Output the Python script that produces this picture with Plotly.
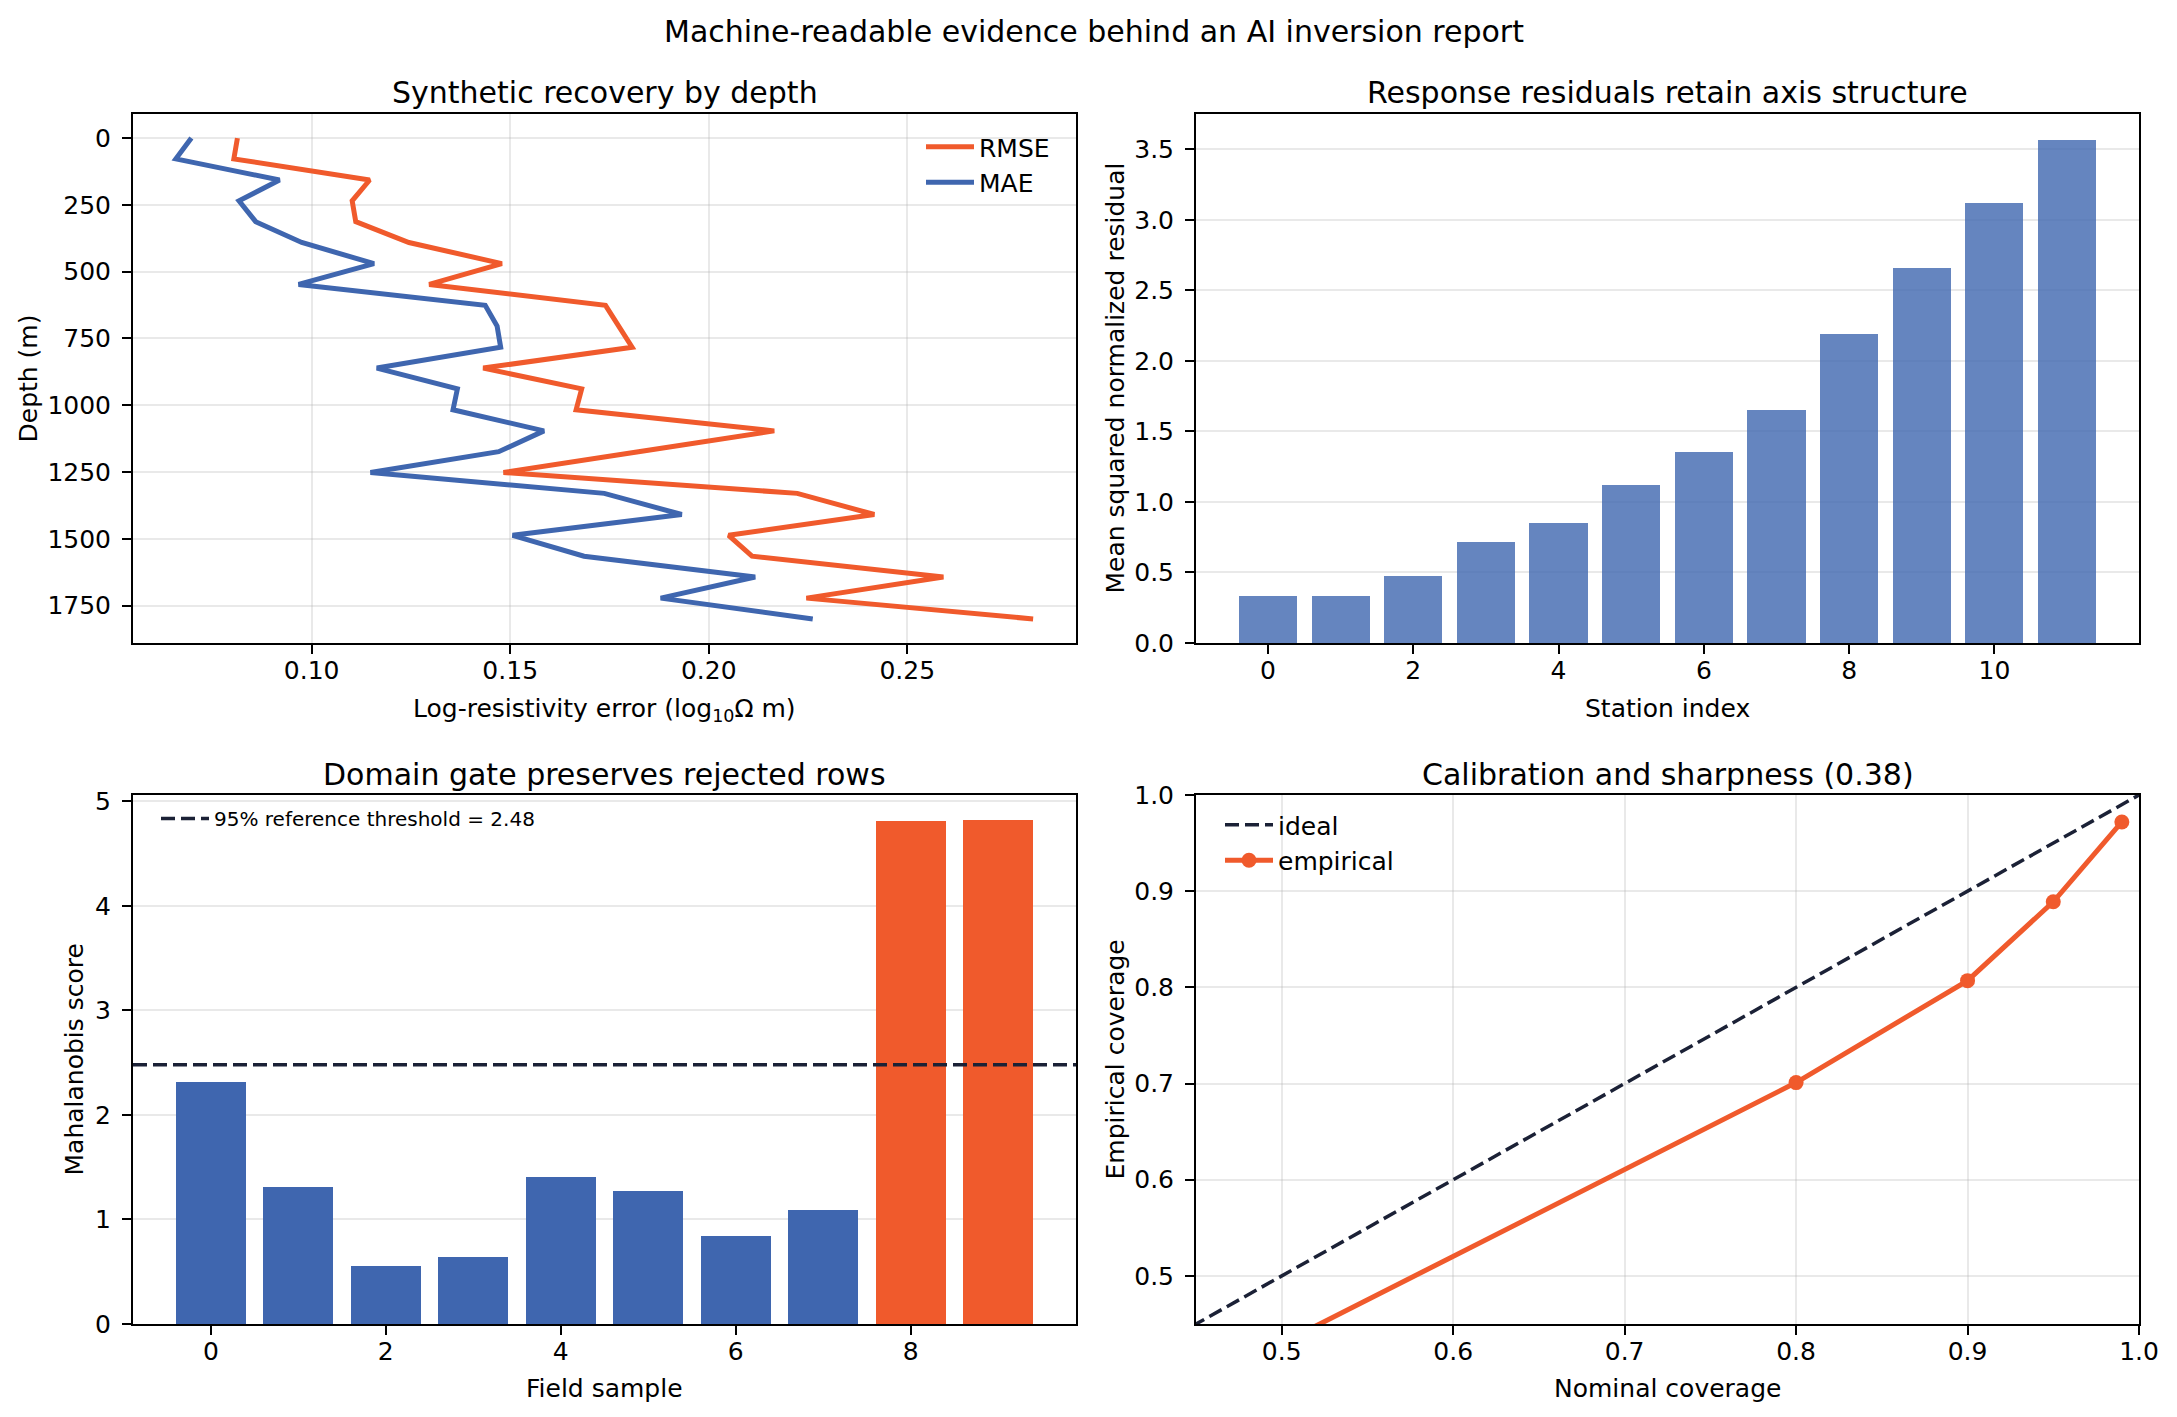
import plotly.graph_objects as go

W, H = 2177, 1417
OFF = 8  # the page body adds an 8 px margin, so pixel targets are shifted back by it

# --- data ---
depth = [0, 78, 157, 235, 313, 391, 470, 548, 626, 704, 783, 861,
         939, 1017, 1096, 1174, 1252, 1330, 1409, 1487, 1565, 1643, 1722, 1800]
rmse = [0.0813, 0.0804, 0.1146, 0.1102, 0.1111, 0.1245, 0.1479, 0.1296,
        0.1740, 0.1772, 0.1807, 0.1432, 0.1680, 0.1666, 0.2165, 0.1823,
        0.1483, 0.2223, 0.2417, 0.2050, 0.2109, 0.2591, 0.2246, 0.2817]
mae = [0.0697, 0.0658, 0.0919, 0.0817, 0.0859, 0.0975, 0.1157, 0.0967,
       0.1437, 0.1467, 0.1476, 0.1164, 0.1367, 0.1356, 0.1585, 0.1471,
       0.1148, 0.1737, 0.1932, 0.1506, 0.1686, 0.2117, 0.1879, 0.2262]

stations = list(range(12))
station_resid = [0.332, 0.332, 0.472, 0.714, 0.849, 1.118, 1.354, 1.650,
                 2.191, 2.660, 3.120, 3.568]

samples = list(range(10))
mahal = [2.318, 1.308, 0.557, 0.645, 1.405, 1.277, 0.838, 1.089, 4.811, 4.820]
threshold = 2.48

nominal = [0.5, 0.8, 0.9, 0.95, 0.99]
empirical = [0.43, 0.701, 0.807, 0.889, 0.972]
ideal = [0.0, 1.0]

BLUE = "#3f66af"
ORANGE = "#f05a2c"
NAVY = "#1b2136"
FONT = "DejaVu Sans"


def px(x):
    return (x - OFF) / W


def py(y):
    return 1 - (y - OFF) / H


fig = go.Figure()

# top-left: recovery by depth
fig.add_trace(go.Scatter(x=rmse, y=depth, mode="lines", name="RMSE",
                         line=dict(color=ORANGE, width=5), xaxis="x", yaxis="y",
                         legend="legend"))
fig.add_trace(go.Scatter(x=mae, y=depth, mode="lines", name="MAE",
                         line=dict(color=BLUE, width=5), xaxis="x", yaxis="y",
                         legend="legend"))

# top-right: station residuals
fig.add_trace(go.Bar(x=stations, y=station_resid, width=0.8, showlegend=False,
                     marker=dict(color=BLUE, opacity=0.8, line=dict(width=0)),
                     xaxis="x2", yaxis="y2"))

# bottom-left: domain gate
bar_cols = [ORANGE if v > threshold else BLUE for v in mahal]
fig.add_trace(go.Bar(x=samples, y=mahal, width=0.8, showlegend=False,
                     marker=dict(color=bar_cols, line=dict(width=0)),
                     xaxis="x3", yaxis="y3"))
fig.add_shape(type="line", xref="x3 domain", yref="y3", x0=0, x1=1,
              y0=threshold, y1=threshold,
              line=dict(color=NAVY, width=3.5, dash="14px,6px"),
              showlegend=True, legend="legend2",
              name=f"95% reference threshold = {threshold:.2f}")

# bottom-right: calibration
fig.add_trace(go.Scatter(x=ideal, y=ideal, mode="lines", name="ideal",
                         line=dict(color=NAVY, width=3.5, dash="14px,6px"),
                         xaxis="x4", yaxis="y4", legend="legend3"))
fig.add_trace(go.Scatter(x=nominal, y=empirical, mode="lines+markers", name="empirical",
                         line=dict(color=ORANGE, width=5),
                         marker=dict(color=ORANGE, size=15),
                         xaxis="x4", yaxis="y4", legend="legend3"))

grid = "rgba(176,176,176,0.28)"
base = dict(showline=True, linecolor="black", linewidth=2, mirror=True,
            ticks="outside", ticklen=9, tickwidth=2, tickcolor="black",
            tickfont=dict(size=25, color="black", family=FONT),
            zeroline=False, layer="above traces",
            gridcolor=grid, gridwidth=2, automargin=False)
bx = dict(base, ticklabelstandoff=-5)
by = dict(base, ticklabelstandoff=6)

xl = [px(133), px(1076)]
xr = [px(1196), px(2139)]
yt = [py(643), py(114)]
yb = [py(1324), py(795)]

leg = dict(bgcolor="rgba(0,0,0,0)", itemwidth=48, yanchor="top")

fig.update_layout(
    width=W, height=H, autosize=False,
    margin=dict(l=0, r=0, t=0, b=0, pad=0, autoexpand=False),
    paper_bgcolor="white", plot_bgcolor="white",
    font=dict(family=FONT, color="black", size=25),
    bargap=0,
    xaxis=dict(bx, domain=xl, anchor="y", range=[0.055, 0.2925],
               tickvals=[0.10, 0.15, 0.20, 0.25], tickformat=".2f", showgrid=True),
    yaxis=dict(by, domain=yt, anchor="x", range=[1890, -90],
               tickvals=[0, 250, 500, 750, 1000, 1250, 1500, 1750], showgrid=True),
    xaxis2=dict(bx, domain=xr, anchor="y2", range=[-0.99, 11.99],
                tickvals=[0, 2, 4, 6, 8, 10], showgrid=False),
    yaxis2=dict(by, domain=yt, anchor="x2", range=[0, 3.75],
                tickvals=[0, 0.5, 1, 1.5, 2, 2.5, 3, 3.5], tickformat=".1f", showgrid=True),
    xaxis3=dict(bx, domain=xl, anchor="y3", range=[-0.89, 9.89],
                tickvals=[0, 2, 4, 6, 8], showgrid=False),
    yaxis3=dict(by, domain=yb, anchor="x3", range=[0, 5.06],
                tickvals=[0, 1, 2, 3, 4, 5], showgrid=True),
    xaxis4=dict(bx, domain=xr, anchor="y4", range=[0.45, 1.0],
                tickvals=[0.5, 0.6, 0.7, 0.8, 0.9, 1.0], tickformat=".1f", showgrid=True),
    yaxis4=dict(by, domain=yb, anchor="x4", range=[0.45, 1.0],
                tickvals=[0.5, 0.6, 0.7, 0.8, 0.9, 1.0], tickformat=".1f", showgrid=True),
    legend=dict(leg, x=px(1055), y=py(124), xanchor="right", font=dict(size=25)),
    legend2=dict(leg, x=px(156), y=py(799), xanchor="left", font=dict(size=20)),
    legend3=dict(leg, x=px(1220), y=py(802), xanchor="left", font=dict(size=25)),
)

ann = []
# suptitle and subplot titles
ann.append(dict(text="Machine-readable evidence behind an AI inversion report",
                x=px(1094), y=py(31), font=dict(size=30)))
for txt, cx, cy in [("Synthetic recovery by depth", sum(xl) / 2, 92),
                    ("Response residuals retain axis structure", sum(xr) / 2, 92),
                    ("Domain gate preserves rejected rows", sum(xl) / 2, 774),
                    ("Calibration and sharpness (0.38)", sum(xr) / 2, 774)]:
    ann.append(dict(text=txt, x=cx, y=py(cy), font=dict(size=30)))
# x axis titles
for txt, cx, cy in [("Log-resistivity error (log<sub>10</sub>Ω m)", sum(xl) / 2, 710),
                    ("Station index", sum(xr) / 2, 708),
                    ("Field sample", sum(xl) / 2, 1388),
                    ("Nominal coverage", sum(xr) / 2, 1388)]:
    ann.append(dict(text=txt, x=cx, y=py(cy), font=dict(size=25)))
# y axis titles
for txt, cx, dom in [("Depth (m)", 28, yt),
                     ("Mean squared normalized residual", 1115, yt),
                     ("Mahalanobis score", 74, yb),
                     ("Empirical coverage", 1115, yb)]:
    ann.append(dict(text=txt, x=px(cx), y=sum(dom) / 2, textangle=-90,
                    font=dict(size=25)))

for a in ann:
    a.update(xref="paper", yref="paper", showarrow=False,
             xanchor="center", yanchor="middle")
fig.update_layout(annotations=ann)

fig.write_html("out.html")
